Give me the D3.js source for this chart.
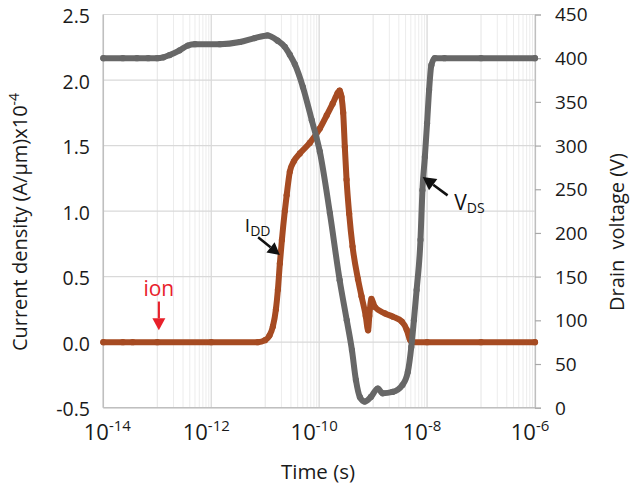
<!DOCTYPE html>
<html><head><meta charset="utf-8">
<script src="https://cdn.jsdelivr.net/npm/d3@7"></script>
<style>
body{margin:0;background:#fff;}
svg{display:block;font-family:"Open Sans",sans-serif;}
</style>
</head><body>
<svg id="c" width="631" height="489"></svg>
<script>
// ---- data ----
const vdsTime  = [1e-14,2.3e-14,4.2e-14,6.8e-14,1e-13,1.3e-13,1.7e-13,2.6e-13,3.7e-13,5e-13,1.45e-12,3.4e-12,6.4e-12,1.1e-11,1.7e-11,2.31e-11,2.86e-11,3.55e-11,5e-11,7.3e-11,1.03e-10,1.58e-10,2.4e-10,3.25e-10,4.05e-10,4.8e-10,5.7e-10,7e-10,9.1e-10,1.22e-9,1.5e-9,2.3e-9,3.5e-9,4.4e-9,5.1e-9,5.7e-9,6.4e-9,7.55e-9,8.2e-9,9.1e-9,1e-8,1.09e-8,1.2e-8,1.39e-8,2.1e-8,1e-7,1e-6];
const vdsValue = [400,400,400,400,400,401,403.6,409,414.5,416,416,418.5,423,426,420,413,404,393,367,329,293,222.8,146,100,66,31.7,12,7,12.3,22,16.5,18,26,41,69.5,100,134.7,192,249,287,325.5,363.6,392,400,400,400,400];

const iddTime  = [1e-14,2.3e-14,3.5e-14,1e-13,1e-12,7.3e-12,1e-11,1.2e-11,1.39e-11,1.58e-11,1.72e-11,1.87e-11,2.04e-11,2.31e-11,2.5e-11,2.86e-11,3.4e-11,4.4e-11,6.7e-11,1.03e-10,1.38e-10,1.78e-10,2.2e-10,2.4e-10,2.6e-10,2.79e-10,2.99e-10,3.22e-10,3.6e-10,4.16e-10,5.25e-10,6.1e-10,7.3e-10,8.07e-10,8.5e-10,9.3e-10,1.07e-9,1.65e-9,2.3e-9,3.4e-9,4.2e-9,4.8e-9,5.2e-9,1e-8,1e-7,1e-6];
const iddValue = [0,0,0,0,0,0,0.015,0.05,0.12,0.25,0.40,0.60,0.78,1.00,1.12,1.30,1.38,1.44,1.52,1.63,1.73,1.82,1.90,1.92,1.87,1.75,1.49,1.24,0.98,0.73,0.48,0.35,0.20,0.09,0.20,0.33,0.27,0.22,0.195,0.157,0.094,0.02,0,0,0,0];

const xTicks      = [1e-14,1e-12,1e-10,1e-8,1e-6];
const xTickExp    = ["-14","-12","-10","-8","-6"];
const xMinorExp   = [-13,-11,-9,-7];
const yLeftTicks  = [-0.5,0,0.5,1.0,1.5,2.0,2.5];
const yLeftLabels = ["-0.5","0.0","0.5","1.0","1.5","2.0","2.5"];
const yRightTicks = [0,50,100,150,200,250,300,350,400,450];

// annotations in data space
const ionLabel = {t:1.07e-13, v:0.35};
const ionArrow = {t:1.07e-13, from:0.31, to:0.09};
const iddLabel = {t:4.2e-12, v:0.84};
const iddArrow = {t1:7.4e-12, v1:0.80, t2:1.87e-11, v2:0.666};
const vdsLabel = {t:3.2e-8, v:226};
const vdsArrow = {t1:2.4e-8, v1:243, t2:8.3e-9, v2:264};

// ---- layout ----
const L = 103.3, R = 535, T = 14.5, B = 407.7;
const svg = d3.select("#c");
const x  = d3.scaleLog().domain([1e-14,1e-6]).range([L,R]);
const yL = d3.scaleLinear().domain([-0.5,2.5]).range([B,T]);
const yR = d3.scaleLinear().domain([0,450]).range([B,T]);

const grid = svg.append("g");
xMinorExp.forEach(e=>{
  for(let k=2;k<=9;k++){
    const xv = x(k*Math.pow(10,e));
    grid.append("line").attr("x1",xv).attr("x2",xv).attr("y1",T).attr("y2",B)
      .attr("stroke","#ececec").attr("stroke-width",1);
  }
  const xv = x(Math.pow(10,e));
  grid.append("line").attr("x1",xv).attr("x2",xv).attr("y1",T).attr("y2",B)
      .attr("stroke","#e4e4e4").attr("stroke-width",1);
});
xTicks.forEach(tv=>{
  grid.append("line").attr("x1",x(tv)).attr("x2",x(tv)).attr("y1",T).attr("y2",B)
    .attr("stroke","#d6d6d6").attr("stroke-width",1.2);
});
yLeftTicks.forEach(v=>{
  grid.append("line").attr("x1",L).attr("x2",R).attr("y1",yL(v)).attr("y2",yL(v))
    .attr("stroke","#d9d9d9").attr("stroke-width",1.2);
});
svg.append("line").attr("x1",L).attr("x2",L).attr("y1",T).attr("y2",B).attr("stroke","#bfbfbf").attr("stroke-width",1.5);
svg.append("line").attr("x1",L).attr("x2",R).attr("y1",B).attr("y2",B).attr("stroke","#bfbfbf").attr("stroke-width",1.5);

const ra = svg.append("g").attr("transform",`translate(${R},0)`)
  .call(d3.axisRight(yR).tickValues(yRightTicks).tickSize(6).tickPadding(14).tickFormat(d3.format("d")));
ra.select(".domain").attr("stroke","#bfbfbf").attr("stroke-width",1.2);
ra.selectAll(".tick line").attr("stroke","#a8a8a8").attr("stroke-width",1.2);
ra.selectAll(".tick text").attr("font-size",19).attr("fill","#1a1a1a")
  .attr("font-family","'Open Sans',sans-serif").attr("dy","0.34em");

yLeftTicks.forEach((v,i)=>{
  svg.append("text").attr("x",90).attr("y",yL(v)+8.5).attr("text-anchor","end")
    .attr("font-size",19.5).attr("fill","#1a1a1a").text(yLeftLabels[i]);
});
xTicks.forEach((tv,i)=>{
  const off = i===0 ? 4 : -5;
  const t = svg.append("text").attr("x",x(tv)+off).attr("y",440).attr("text-anchor","middle")
    .attr("font-size",22).attr("fill","#1a1a1a");
  t.append("tspan").text("10");
  t.append("tspan").attr("font-size",15).attr("dy",-9).text(xTickExp[i]);
});

svg.append("text").attr("x",318).attr("y",479).attr("text-anchor","middle")
  .attr("font-size",20.5).attr("fill","#1a1a1a").text("Time (s)");
const lt = svg.append("text").attr("transform","translate(27,222) rotate(-90)")
  .attr("text-anchor","middle").attr("font-size",20).attr("fill","#1a1a1a");
lt.append("tspan").text("Current density (A/μm)x10");
lt.append("tspan").attr("font-size",14).attr("dy",-8).text("-4");
svg.append("text").attr("transform","translate(624,232) rotate(-90)")
  .attr("text-anchor","middle").attr("font-size",20).attr("fill","#1a1a1a")
  .attr("xml:space","preserve").style("white-space","pre").text("Drain  voltage (V)");

// ---- series ----
const brown = "#a64b22", gray = "#676767";
const iddData = iddTime.map((t,i)=>[t,iddValue[i]]);
const vdsData = vdsTime.map((t,i)=>[t,vdsValue[i]]);
const lineL = d3.line().x(d=>x(d[0])).y(d=>yL(d[1])).curve(d3.curveMonotoneX);
const lineR = d3.line().x(d=>x(d[0])).y(d=>yR(d[1])).curve(d3.curveMonotoneX);

svg.append("path").datum(iddData).attr("d",lineL).attr("fill","none")
  .attr("stroke",brown).attr("stroke-width",6).attr("stroke-linejoin","round").attr("stroke-linecap","round");
svg.append("g").selectAll("circle").data(iddData).join("circle")
  .attr("cx",d=>x(d[0])).attr("cy",d=>yL(d[1])).attr("r",3.1).attr("fill",brown);

svg.append("path").datum(vdsData).attr("d",lineR).attr("fill","none")
  .attr("stroke",gray).attr("stroke-width",6).attr("stroke-linejoin","round").attr("stroke-linecap","round");
svg.append("g").selectAll("circle").data(vdsData).join("circle")
  .attr("cx",d=>x(d[0])).attr("cy",d=>yR(d[1])).attr("r",3.1).attr("fill",gray);

// ---- annotations ----
function arrow(x1,y1,x2,y2,color,w,head,hw){
  const a = Math.atan2(y2-y1,x2-x1);
  const bx = x2 - head*Math.cos(a), by = y2 - head*Math.sin(a);
  svg.append("line").attr("x1",x1).attr("y1",y1).attr("x2",bx).attr("y2",by)
    .attr("stroke",color).attr("stroke-width",w);
  const px = -Math.sin(a)*hw, py = Math.cos(a)*hw;
  svg.append("path").attr("d",`M${x2},${y2}L${bx+px},${by+py}L${bx-px},${by-py}Z`).attr("fill",color);
}
svg.append("text").attr("x",x(ionLabel.t)).attr("y",yL(ionLabel.v)).attr("text-anchor","middle")
  .attr("font-size",21).attr("fill","#e8202a").text("ion");
arrow(x(ionArrow.t),yL(ionArrow.from),x(ionArrow.t),yL(ionArrow.to),"#e8202a",2.2,12,6.5);

const it = svg.append("text").attr("x",x(iddLabel.t)).attr("y",yL(iddLabel.v))
  .attr("font-size",19).attr("fill","#111");
it.append("tspan").text("I");
it.append("tspan").attr("font-size",14).attr("dy",4).text("DD");
arrow(x(iddArrow.t1),yL(iddArrow.v1),x(iddArrow.t2),yL(iddArrow.v2),"#111",2.5,12,6.5);

const vt = svg.append("text").attr("x",x(vdsLabel.t)).attr("y",yR(vdsLabel.v))
  .attr("font-size",21).attr("fill","#111");
vt.append("tspan").text("V");
vt.append("tspan").attr("font-size",14).attr("dy",3).text("DS");
arrow(x(vdsArrow.t1),yR(vdsArrow.v1),x(vdsArrow.t2),yR(vdsArrow.v2),"#111",2.5,13,7);
</script>
</body></html>
